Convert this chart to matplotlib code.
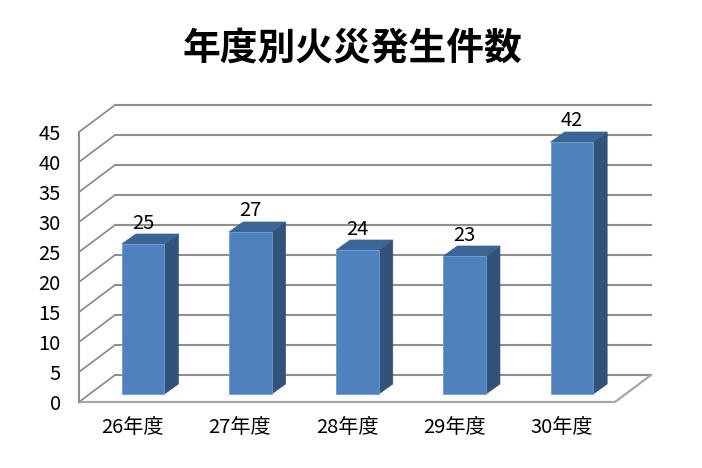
import matplotlib
matplotlib.use('Agg')
import matplotlib.pyplot as plt
from matplotlib.patches import Polygon
from matplotlib.transforms import Affine2D
import numpy as np

plt.rcParams['font.family'] = ['Noto Sans CJK JP', 'DejaVu Sans']

years = ['26年度', '27年度', '28年度', '29年度', '30年度']
fires = [25, 27, 24, 23, 42]
yticks = np.arange(0, 50, 5)
title = '年度別火災発生件数'

W, H = 702, 468
GREY = '#8f8f8f'
FRONT = '#4f81bd'
SIDE = '#325279'
TOP = '#3b6595'

fig = plt.figure(figsize=(W/100, H/100), dpi=100)
# front plane of the chart box
ax = fig.add_axes([79/W, (H-402)/H, 536/W, 270/H])
ax.set_xlim(0, 5)
ax.set_ylim(0, 45)
ax.patch.set_visible(False)
for s in ax.spines.values():
    s.set_visible(False)

# pixels to data units
ux = 536/5
uy = 270/45
back_x, back_y = 36/ux, 27/uy     # depth of the box
bar_x, bar_y = 10.5/ux, 8/uy      # where the bar front sits
dep_x, dep_y = 14/ux, 10/uy       # depth of a bar
width = 42.5/ux

# back wall gridlines and the diagonals on the left wall
for t in yticks:
    ax.plot([back_x, 5+back_x], [t+back_y, t+back_y], color=GREY, lw=1.5, zorder=1, clip_on=False)
    ax.plot([0, back_x], [t, t+back_y], color=GREY, lw=1.3, zorder=1, clip_on=False)

# floor and axis
ax.plot([0, 5, 5+back_x], [0, 0, back_y], color='#a6a6a6', lw=1.6, zorder=1, clip_on=False)
ax.plot([0, 0], [0, 45], color=GREY, lw=1.5, zorder=1, clip_on=False)

x = np.arange(len(fires)) + 0.5
front_shift = Affine2D().translate(10.5, 8)
ax.bar(x, fires, width=width, color=FRONT, edgecolor='#6f9bd0', linewidth=0.6, zorder=3,
       transform=ax.transData + front_shift, clip_on=False)

for xi, v in zip(x, fires):
    l = xi - width/2 + bar_x
    r = xi + width/2 + bar_x
    b = bar_y
    t = v + bar_y
    side = Polygon([(r, b), (r+dep_x, b+dep_y), (r+dep_x, t+dep_y), (r, t)],
                   facecolor=SIDE, edgecolor=SIDE, lw=0.5, zorder=2, clip_on=False)
    top = Polygon([(l, t), (l+dep_x, t+dep_y), (r+dep_x, t+dep_y), (r, t)],
                  facecolor=TOP, edgecolor=TOP, lw=0.5, zorder=2, clip_on=False)
    ax.add_patch(side)
    ax.add_patch(top)
    ax.annotate(str(v), xy=(xi, v), xytext=(10.5, 29), textcoords='offset pixels',
                ha='center', va='center', fontsize=14.5, color='black', zorder=4)

ax.set_xticks(x)
ax.set_xticklabels(years, fontsize=14.5)
ax.set_yticks(yticks)
ax.tick_params(axis='x', length=0, pad=11)
ax.tick_params(axis='y', length=0, pad=13, labelsize=14.5)

fig.text(352/W, (H-48)/H, title, fontsize=27.2, fontweight='bold', ha='center', va='center')

fig.savefig('out.png', dpi=100, facecolor='white')
